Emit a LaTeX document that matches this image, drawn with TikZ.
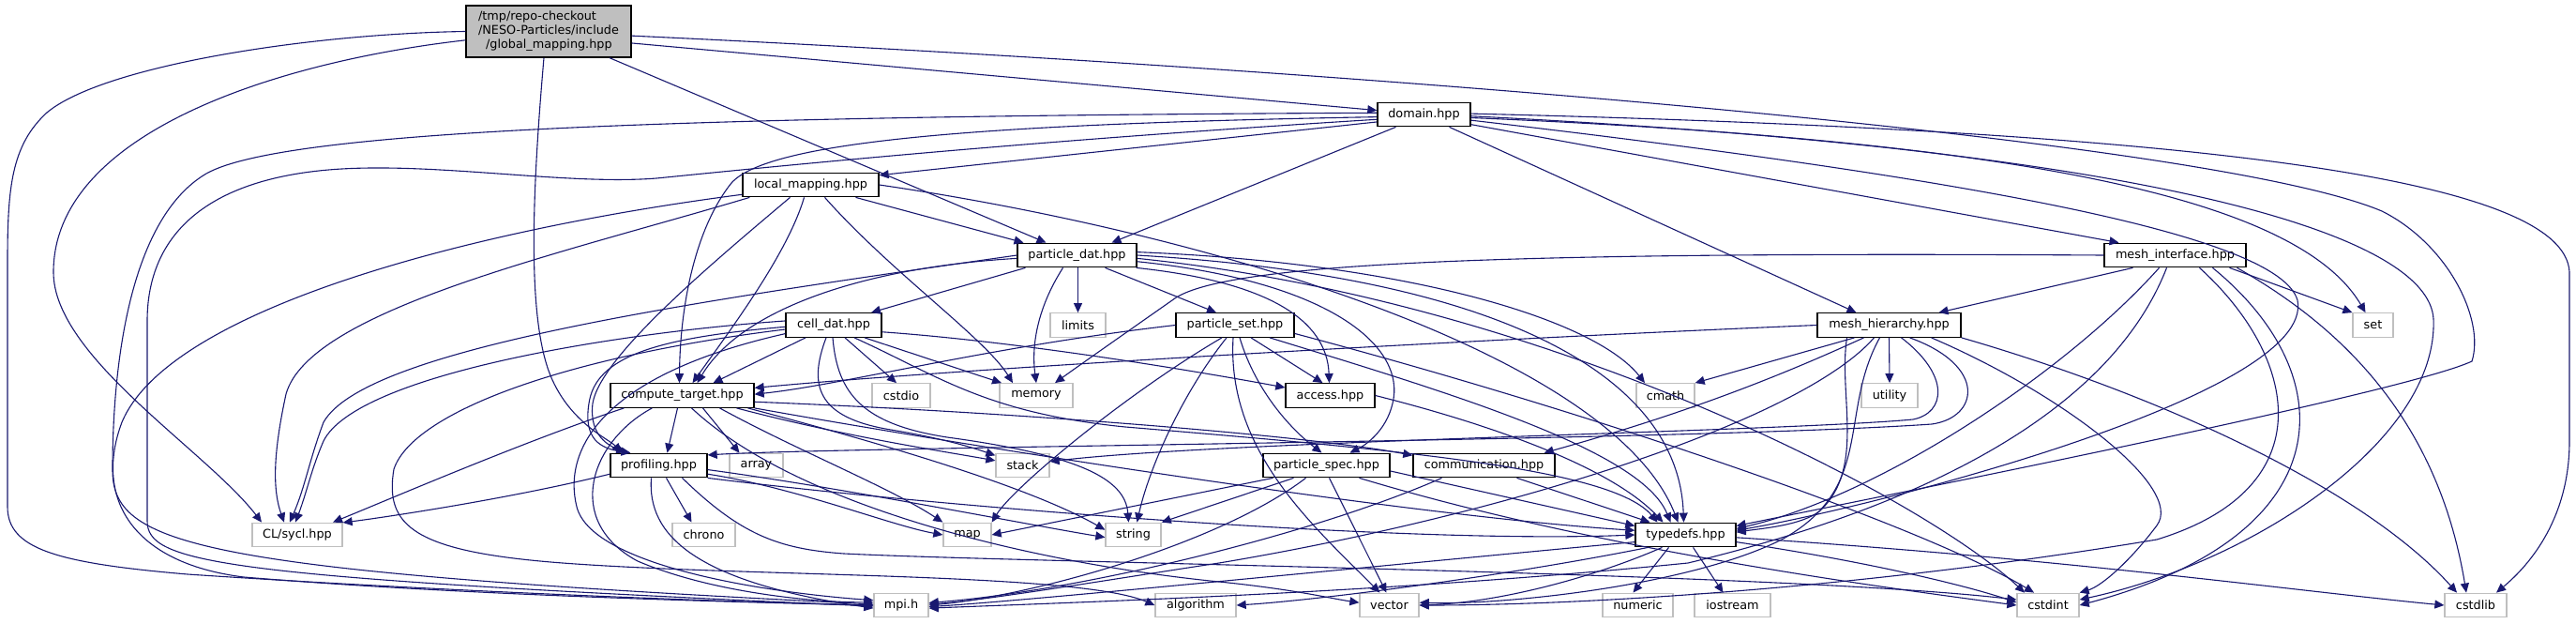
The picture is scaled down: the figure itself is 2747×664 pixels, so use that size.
\documentclass[tikz,border=0pt]{standalone}
\usepackage{fontspec}
\setmainfont{DejaVu Sans}
\usetikzlibrary{arrows.meta}
\definecolor{edgec}{HTML}{191970}
\definecolor{extc}{HTML}{BFBFBF}
\definecolor{rootc}{HTML}{BFBFBF}
\begin{document}
\begin{tikzpicture}[x=1pt,y=-1pt,
  docn/.style={draw=black, fill=white, line width=1.3pt, minimum height=25.5pt, inner sep=0pt, font=\fontsize{12.8}{15}\selectfont},
  extn/.style={docn, draw=extc},
  rootn/.style={docn, fill=rootc, align=left},
  e/.style={draw=edgec, line width=1.1pt, -{Triangle[length=10pt,width=9pt]}}]
\useasboundingbox[fill=white] (0,0) rectangle (2747,664);
% nodes
\node[rootn, minimum width=176pt, minimum height=55pt] (gm) at (585,33.5) {/tmp/repo-checkout\\/NESO-Particles/include\\\hspace*{8pt}/global\_mapping.hpp};
\node[docn, minimum width=99pt] (dom) at (1518.5,122) {domain.hpp};
\node[docn, minimum width=145pt] (lm) at (864.5,197) {local\_mapping.hpp};
\node[docn, minimum width=127pt] (pd) at (1148.5,272) {particle\_dat.hpp};
\node[docn, minimum width=151pt] (mi) at (2319.5,272) {mesh\_interface.hpp};
\node[docn, minimum width=102pt] (cd) at (889,346.5) {cell\_dat.hpp};
\node[extn, minimum width=59pt] (lim) at (1149.5,346.5) {limits};
\node[docn, minimum width=126pt] (ps) at (1317,346.5) {particle\_set.hpp};
\node[docn, minimum width=153pt] (mh) at (2014.5,346.5) {mesh\_hierarchy.hpp};
\node[extn, minimum width=43pt] (set) at (2530.5,346.5) {set};
\node[docn, minimum width=153pt] (ct) at (727.5,421.5) {compute\_target.hpp};
\node[extn, minimum width=62pt] (cstdio) at (961,421.5) {cstdio};
\node[extn, minimum width=78pt] (mem) at (1105,421.5) {memory};
\node[docn, minimum width=95pt] (acc) at (1418.5,421.5) {access.hpp};
\node[extn, minimum width=62pt] (cmath) at (1776,421.5) {cmath};
\node[extn, minimum width=60pt] (util) at (2015,421.5) {utility};
\node[docn, minimum width=103pt] (prof) at (702.5,496) {profiling.hpp};
\node[extn, minimum width=57pt] (arr) at (806.5,496) {array};
\node[extn, minimum width=57pt] (stack) at (1090.5,496) {stack};
\node[docn, minimum width=135pt] (pspec) at (1414.5,496) {particle\_spec.hpp};
\node[docn, minimum width=151pt] (comm) at (1582.5,496) {communication.hpp};
\node[extn, minimum width=96pt] (sycl) at (317,570) {CL/sycl.hpp};
\node[extn, minimum width=67pt] (chrono) at (750.5,570) {chrono};
\node[extn, minimum width=51pt] (map) at (1031.5,570) {map};
\node[extn, minimum width=59pt] (str) at (1208.5,570) {string};
\node[docn, minimum width=107pt] (td) at (1797.5,570) {typedefs.hpp};
\node[extn, minimum width=58pt] (mpi) at (961,645) {mpi.h};
\node[extn, minimum width=86pt] (alg) at (1275,645) {algorithm};
\node[extn, minimum width=63pt] (vec) at (1481.5,645) {vector};
\node[extn, minimum width=75pt] (num) at (1746.5,645) {numeric};
\node[extn, minimum width=81pt] (ios) at (1847.5,645) {iostream};
\node[extn, minimum width=66pt] (cint) at (2184,645) {cstdint};
\node[extn, minimum width=66pt] (clib) at (2640,645) {cstdlib};
% global_mapping
\draw[e] (gm.west) .. controls (330,36) and (110,70) .. (50,120) .. controls (12,155) and (8,200) .. (8,280) -- (8,540) .. controls (8,585) and (60,600) .. (200,612) .. controls (500,632) and (800,642) .. (mpi.west);
\draw[e] (gm.186) .. controls (300,65) and (57,140) .. (57,290) .. controls (57,380) and (220,480) .. ([xshift=-38pt]sycl.north);
\draw[e] ([xshift=-5pt]gm.south) .. controls (568,200) and (562,330) .. (585,395) .. controls (605,450) and (650,468) .. ([xshift=-40pt]prof.north);
\draw[e] ([xshift=65pt]gm.south) -- ([xshift=-33pt]pd.north);
\draw[e] (gm.-8) -- (dom.175);
\draw[e] (gm.-3) .. controls (1400,72) and (2350,145) .. (2540,225) .. controls (2610,260) and (2650,340) .. (2636,385) .. controls (2560,420) and (2000,530) .. (td.10);
% domain
\draw[e] (dom.189) -- (lm.8);
\draw[e] ([xshift=-30pt]dom.south) -- ([xshift=37pt]pd.north);
\draw[e] ([xshift=27pt]dom.south) -- ([xshift=-35pt]mh.north);
\draw[e] (dom.-12) -- ([xshift=-60pt]mi.north);
\draw[e] (dom.183) .. controls (1050,132) and (820,150) .. (780,195) .. controls (740,245) and (725,330) .. ([xshift=-3pt]ct.north);
\draw[e] (dom.178) .. controls (700,124) and (300,140) .. (220,185) .. controls (135,235) and (120,400) .. (120,500) .. controls (120,580) and (200,608) .. (mpi.178);
\draw[e] (dom.186) .. controls (1100,150) and (850,175) .. (700,190) .. controls (600,198) and (450,170) .. (340,182) .. controls (220,195) and (158,250) .. (157,340) -- (157,555) .. controls (157,600) and (230,615) .. (mpi.182);
\draw[e] (dom.-4) .. controls (2150,150) and (2450,210) .. ([xshift=-8pt]set.north);
\draw[e] (dom.-2) .. controls (2300,160) and (2590,250) .. (2595,340) .. controls (2600,470) and (2400,600) .. (cint.10);
\draw[e] (dom.1) .. controls (2350,140) and (2735,190) .. (2740,290) -- (2740,470) .. controls (2740,550) and (2700,600) .. ([xshift=22pt]clib.north);
\draw[e] (dom.-7) .. controls (2100,190) and (2430,250) .. (2450,320) .. controls (2470,420) and (2000,540) .. (td.5);
% local_mapping
\draw[e] (lm.188) .. controls (500,245) and (180,330) .. (130,450) .. controls (100,530) and (140,600) .. (260,615) .. controls (500,635) and (800,642) .. (mpi.west);
\draw[e] ([xshift=8pt]lm.south west) .. controls (600,270) and (330,330) .. (305,420) .. controls (292,480) and (290,520) .. ([xshift=-14pt]sycl.north);
\draw[e] ([xshift=-22pt]lm.south) .. controls (760,280) and (640,380) .. (632,430) .. controls (628,465) and (650,475) .. ([xshift=-35pt]prof.north);
\draw[e] ([xshift=-7pt]lm.south) .. controls (840,270) and (780,350) .. ([xshift=11pt]ct.north);
\draw[e] ([xshift=15pt]lm.south) .. controls (950,290) and (1050,360) .. ([xshift=-25pt]mem.north);
\draw[e] ([xshift=48pt]lm.south) -- ([xshift=-57pt]pd.north);
\draw[e] (lm.east) .. controls (1300,250) and (1720,380) .. ([xshift=-8pt]td.north);
% particle_dat
\draw[e] (pd.west) .. controls (750,320) and (390,370) .. (345,450) .. controls (330,490) and (325,520) .. ([xshift=-8pt]sycl.north);
\draw[e] (pd.183) .. controls (920,285) and (790,330) .. ([xshift=16pt]ct.north);
\draw[e] ([xshift=-55pt]pd.south) -- ([xshift=40pt]cd.north);
\draw[e] ([xshift=-15pt]pd.south) .. controls (1105,330) and (1100,370) .. (mem.north);
\draw[e] ([xshift=1pt]pd.south) -- (lim.north);
\draw[e] ([xshift=30pt]pd.south) -- ([xshift=-20pt]ps.north);
\draw[e] (pd.-12) .. controls (1350,300) and (1415,340) .. ([xshift=-1pt]acc.north);
\draw[e] (pd.-6) .. controls (1420,300) and (1500,370) .. (1485,430) .. controls (1478,460) and (1455,475) .. ([xshift=25pt]pspec.north);
\draw[e] (pd.3) .. controls (1500,280) and (1700,340) .. ([xshift=-22pt]cmath.north);
\draw[e] (pd.east) .. controls (1600,295) and (1790,400) .. ([xshift=-2pt]td.north);
\draw[e] (pd.-3) .. controls (1650,320) and (2050,530) .. ([xshift=-25pt]cint.north);
% cell_dat
\draw[e] (cd.175) .. controls (650,355) and (380,400) .. (345,470) .. controls (332,500) and (327,525) .. ([xshift=-2pt]sycl.north);
\draw[e] (cd.185) .. controls (600,380) and (440,440) .. (420,500) .. controls (410,560) and (440,588) .. (600,600) .. controls (800,615) and (1150,610) .. (alg.west);
\draw[e] (cd.182) .. controls (700,360) and (635,380) .. (628,430) .. controls (622,468) and (640,478) .. ([xshift=-30pt]prof.north);
\draw[e] (cd.190) .. controls (640,400) and (600,480) .. (615,540) .. controls (630,600) and (800,630) .. (mpi.170);
\draw[e] ([xshift=-30pt]cd.south) -- ([xshift=33pt]ct.north);
\draw[e] ([xshift=12pt]cd.south) -- ([xshift=-5pt]cstdio.north);
\draw[e] ([xshift=33pt]cd.south) -- ([xshift=-37pt]mem.north);
\draw[e] (cd.-8) .. controls (1100,365) and (1300,400) .. (acc.170);
\draw[e] ([xshift=-8pt]cd.south) .. controls (862,410) and (870,445) .. (950,458) .. controls (1010,468) and (1040,478) .. (stack.160);
\draw[e] ([xshift=-1pt]cd.south) .. controls (893,420) and (920,452) .. (1010,466) .. controls (1150,485) and (1200,510) .. ([xshift=-5pt]str.north);
\draw[e] ([xshift=22pt]cd.south) .. controls (1000,400) and (1050,440) .. (1200,455) .. controls (1500,480) and (1720,500) .. ([xshift=-30pt]td.north);
% compute_target
\draw[e] ([xshift=15pt]ct.south west) .. controls (560,470) and (420,530) .. ([xshift=38pt]sycl.north);
\draw[e] ([xshift=45pt]ct.south west) .. controls (630,470) and (600,555) .. (680,598) .. controls (760,632) and (870,642) .. (mpi.174);
\draw[e] ([xshift=-5pt]ct.south) -- ([xshift=9pt]prof.north);
\draw[e] ([xshift=22pt]ct.south) -- ([xshift=-18pt]arr.north);
\draw[e] ([xshift=40pt]ct.south) .. controls (850,480) and (950,520) .. (map.north west);
\draw[e] ([xshift=58pt]ct.south) .. controls (900,465) and (1000,480) .. (stack.170);
\draw[e] ([xshift=70pt]ct.south) .. controls (950,475) and (1100,520) .. (str.170);
\draw[e] (ct.south east) .. controls (1000,470) and (1500,550) .. (td.175);
\draw[e] (ct.-5) .. controls (1100,440) and (1400,465) .. (comm.172);
\draw[e] ([xshift=10pt]ct.south) .. controls (850,540) and (1100,600) .. (1300,620) .. controls (1380,628) and (1420,638) .. (vec.175);
% profiling
\draw[e] (prof.190) .. controls (550,530) and (420,550) .. (sycl.15);
\draw[e] ([xshift=-8pt]prof.south) .. controls (690,570) and (740,620) .. (mpi.186);
\draw[e] ([xshift=8pt]prof.south) -- ([xshift=-13pt]chrono.north);
\draw[e] ([xshift=25pt]prof.south) .. controls (790,570) and (830,585) .. (900,590) .. controls (1100,600) and (1900,610) .. (cint.170);
\draw[e] (prof.-10) .. controls (850,520) and (950,560) .. (map.west);
\draw[e] (prof.-5) .. controls (900,520) and (1100,560) .. (str.185);
\draw[e] (prof.south east) .. controls (1000,540) and (1500,580) .. (td.west);
% particle_set
\draw[e] (ps.west) .. controls (1050,370) and (900,410) .. (ct.1);
\draw[e] ([xshift=-14pt]ps.south) .. controls (1200,420) and (1080,520) .. (map.north east);
\draw[e] ([xshift=-9pt]ps.south) .. controls (1260,420) and (1225,500) .. ([xshift=4pt]str.north);
\draw[e] ([xshift=-2pt]ps.south) .. controls (1308,480) and (1400,560) .. ([xshift=-10pt]vec.north);
\draw[e] ([xshift=5pt]ps.south) .. controls (1340,420) and (1380,460) .. ([xshift=-5pt]pspec.north);
\draw[e] ([xshift=17pt]ps.south) -- ([xshift=-8pt]acc.north);
\draw[e] ([xshift=37pt]ps.south) .. controls (1550,420) and (1750,480) .. ([xshift=-16pt]td.north);
\draw[e] (ps.-8) .. controls (1700,440) and (2050,560) .. ([xshift=-15pt]cint.north);
% particle_spec
\draw[e] ([xshift=-57pt]pspec.south) -- (map.east);
\draw[e] ([xshift=-35pt]pspec.south) -- (str.north east);
\draw[e] ([xshift=-22pt]pspec.south) .. controls (1300,580) and (1100,635) .. (mpi.east);
\draw[e] ([xshift=3pt]pspec.south) -- ([xshift=-3pt]vec.north);
\draw[e] ([xshift=35pt]pspec.south) .. controls (1700,585) and (2000,625) .. (cint.west);
\draw[e] (pspec.-5) -- (td.170);
% access, communication
\draw[e] (acc.east) .. controls (1600,455) and (1720,500) .. ([xshift=-24pt]td.north);
\draw[e] ([xshift=-45pt]comm.south) .. controls (1400,570) and (1150,630) .. (mpi.5);
\draw[e] ([xshift=35pt]comm.south) -- ([xshift=-38pt]td.north);
% typedefs
\draw[e] (td.188) .. controls (1500,600) and (1100,640) .. (mpi.-3);
\draw[e] ([xshift=-40pt]td.south) .. controls (1600,615) and (1400,640) .. (alg.east);
\draw[e] ([xshift=-25pt]td.south) .. controls (1700,615) and (1600,642) .. (vec.east);
\draw[e] ([xshift=-18pt]td.south) -- ([xshift=-5pt]num.north);
\draw[e] ([xshift=8pt]td.south) -- ([xshift=-10pt]ios.north);
\draw[e] (td.-8) .. controls (2000,600) and (2100,625) .. (cint.175);
\draw[e] (td.-3) .. controls (2200,595) and (2450,630) .. (clib.west);
% mesh_hierarchy
\draw[e] (mh.west) .. controls (1500,365) and (1000,395) .. (ct.6);
\draw[e] ([xshift=-37pt]mh.south) -- (cmath.north east);
\draw[e] ([xshift=-27pt]mh.south) .. controls (1900,400) and (1800,440) .. ([xshift=-12pt]comm.north east);
\draw[e] ([xshift=-45pt]mh.south) .. controls (1960,420) and (1990,500) .. (1940,545) .. controls (1920,560) and (1880,563) .. (td.3);
\draw[e] ([xshift=-16pt]mh.south) .. controls (1920,450) and (1600,550) .. (1300,600) .. controls (1200,615) and (1050,640) .. (mpi.2);
\draw[e] ([xshift=-10pt]mh.south) .. controls (1960,440) and (2000,520) .. (1900,575) .. controls (1800,625) and (1600,645) .. (vec.5);
\draw[e] (mh.south) -- (util.north);
\draw[e] ([xshift=13pt]mh.south) .. controls (2080,400) and (2075,440) .. (2040,447) .. controls (1900,460) and (1300,470) .. (stack.8);
\draw[e] ([xshift=22pt]mh.south) .. controls (2120,390) and (2110,445) .. (2060,452) .. controls (1800,470) and (900,476) .. (prof.12);
\draw[e] ([xshift=45pt]mh.south) .. controls (2200,420) and (2330,520) .. (2300,560) .. controls (2270,600) and (2240,625) .. (cint.north east);
\draw[e] (mh.south east) .. controls (2300,420) and (2520,520) .. ([xshift=-20pt]clib.north);
% mesh_interface
\draw[e] ([xshift=-45pt]mi.south) -- ([xshift=53pt]mh.north);
\draw[e] (mi.west) .. controls (1600,268) and (1300,280) .. (1250,320) .. controls (1200,355) and (1150,390) .. ([xshift=20pt]mem.north);
\draw[e] ([xshift=58pt]mi.south) -- (set.north west);
\draw[e] ([xshift=-17pt]mi.south) .. controls (2200,400) and (2000,530) .. (td.7);
\draw[e] ([xshift=-9pt]mi.south) .. controls (2250,440) and (2050,540) .. (1800,600) .. controls (1500,630) and (1200,640) .. (mpi.-6);
\draw[e] ([xshift=26pt]mi.south) .. controls (2450,380) and (2480,520) .. (2300,575) .. controls (2000,625) and (1700,645) .. (vec.east);
\draw[e] ([xshift=40pt]mi.south) .. controls (2500,400) and (2500,570) .. (cint.east);
\draw[e] ([xshift=66pt]mi.south) .. controls (2500,350) and (2600,450) .. ([xshift=-10pt]clib.north);
\end{tikzpicture}
\end{document}
